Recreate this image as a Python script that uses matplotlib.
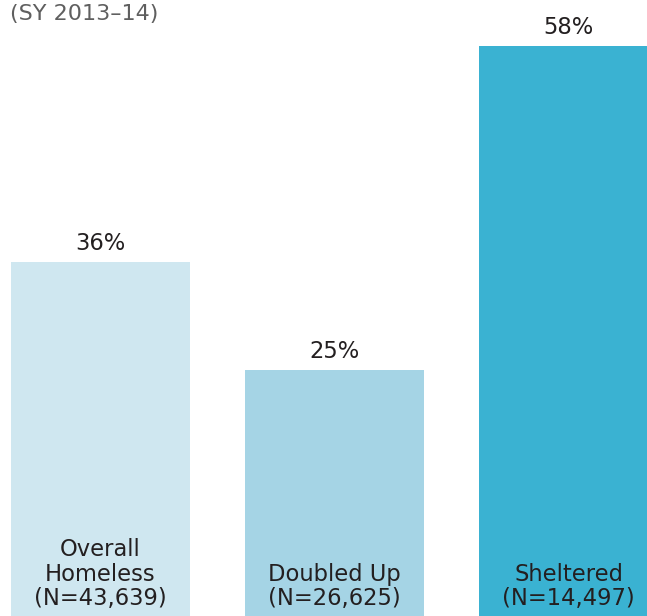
import matplotlib
matplotlib.use("Agg")
import matplotlib.pyplot as plt

labels = ["Overall\nHomeless\n(N=43,639)", "Doubled Up\n(N=26,625)", "Sheltered\n(N=14,497)"]
values = [36, 25, 58]
colors = ["#cfe7f0", "#a5d4e5", "#3ab2d2"]
subtitle = "(SY 2013\u201314)"

plt.rcParams["font.family"] = ["DejaVu Sans"]

fig = plt.figure(figsize=(6.47, 6.16), dpi=100)
ax = fig.add_axes([0, 0, 1, 1])

x = range(len(values))
bars = ax.bar(x, values, width=0.765, color=colors)

for b, v, lab in zip(bars, values, labels):
    cx = b.get_x() + b.get_width() / 2
    ax.annotate(f"{v}%", (cx, v), xytext=(0, 5), textcoords="offset points",
                ha="center", va="bottom", fontsize=16.3, color="#231f20")
    ax.annotate(lab, (cx, 0), xytext=(0, 4), textcoords="offset points",
                ha="center", va="bottom", fontsize=16.3, color="#231f20",
                multialignment="center", linespacing=1.1)

ax.text(0.015, 0.993, subtitle, transform=ax.transAxes, ha="left", va="top",
        fontsize=16, color="#5f5f5f")

ax.set_xlim(-0.4295, 2.335)
ax.set_ylim(0, 62.66)
ax.axis("off")

fig.savefig("out.png", dpi=100)
